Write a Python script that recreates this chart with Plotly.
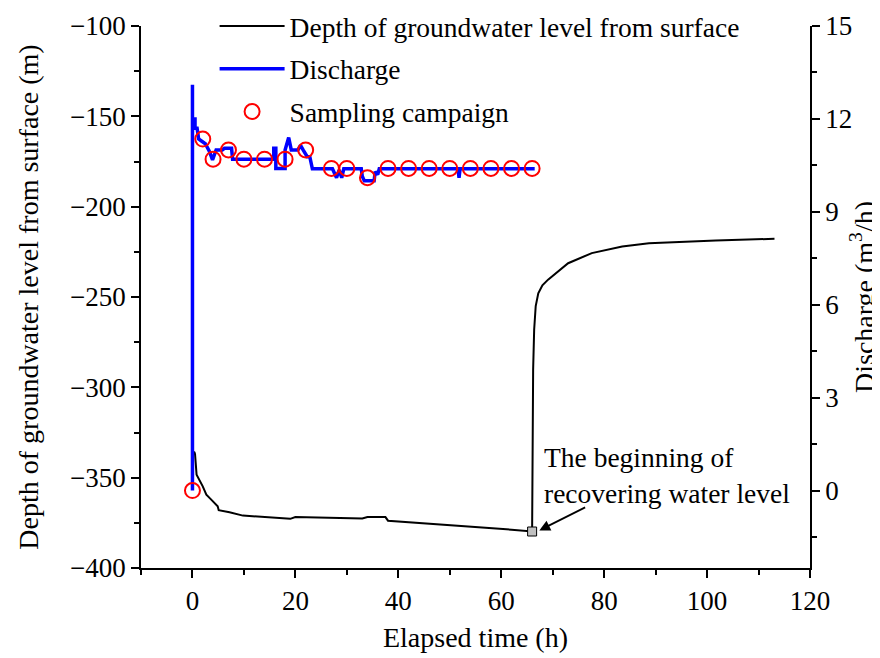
import plotly.graph_objects as go

# Depth of groundwater level (m) vs elapsed time (h)
depth_t = [0.0, 0.4, 0.5, 0.8, 2.0, 2.7, 3.6, 4.3, 4.9, 5.1, 7.2, 9.8, 15.0, 19.0, 20.0, 25.0,
           30.0, 33.0, 34.0, 37.5, 38.0, 45.0, 55.0, 62.0, 66.0,
           66.1, 66.2, 66.4, 66.7, 67.2, 68.0, 69.1, 73.0, 77.6, 83.5, 88.7, 95.2, 101.7, 113.1]
depth_v = [-335.4, -336.0, -337.0, -348.3, -354.8, -359.4, -362.0, -364.0, -365.8, -368.0, -369.1, -371.0, -372.2, -372.8, -371.8, -372.0,
           -372.3, -372.6, -371.8, -371.8, -373.8, -375.2, -377.3, -378.8, -379.8,
           -330.0, -290.0, -268.0, -255.0, -248.0, -243.5, -240.4, -231.3, -225.7, -222.0, -220.2, -219.3, -218.7, -217.8]

# Discharge (m3/h)
dis_t = [0.0, 0.0, 0.0, 0.5, 0.5, 0.9, 1.2, 2.5, 3.3, 3.9, 4.6, 5.8, 6.2, 7.6, 7.8, 15.8, 15.8, 16.2, 16.2,
         18.0, 18.0, 18.7, 19.2, 20.5, 21.0, 21.5, 22.3, 22.8, 23.3, 27.2, 28.0, 28.5, 29.0, 29.4,
         32.8, 33.0, 33.4, 35.3, 35.5, 36.0, 36.3, 51.6, 51.8, 52.0, 66.5]
dis_v = [0.0, 13.1, 12.0, 12.0, 11.7, 11.7, 11.35, 11.2, 10.95, 10.68, 11.0, 11.0, 11.05, 11.05, 10.7, 10.7, 11.05, 11.05, 10.4,
         10.4, 11.0, 11.4, 11.0, 11.0, 11.15, 11.0, 10.78, 10.78, 10.39, 10.39, 10.1, 10.35, 10.1, 10.39,
         10.39, 10.15, 10.0, 10.0, 10.3, 10.2, 10.39, 10.39, 10.1, 10.39, 10.39]

# Sampling campaign
samp_t = [0, 2, 4, 7, 10, 14, 18, 22, 27, 30, 34, 38, 42, 46, 50, 54, 58, 62, 66]
samp_v = [0.0, 11.35, 10.7, 11.0, 10.7, 10.7, 10.7, 11.0, 10.4, 10.4, 10.1, 10.4, 10.4, 10.4, 10.4, 10.4, 10.4, 10.4, 10.4]

# Beginning of recovery point
rec_t = [66.0]
rec_v = [-379.8]

FONT = "Liberation Serif"

fig = go.Figure()
fig.add_trace(go.Scatter(x=depth_t, y=depth_v, mode="lines", name="Depth of groundwater level from surface",
                         line=dict(color="black", width=2), legendgroup="a"))
fig.add_trace(go.Scatter(x=dis_t, y=dis_v, mode="lines", name="Discharge", yaxis="y2",
                         line=dict(color="#0000ff", width=3.5), legendgroup="b"))
fig.add_trace(go.Scatter(x=samp_t, y=samp_v, mode="markers", name="Sampling campaign", yaxis="y2",
                         marker=dict(symbol="circle-open", size=15, color="#ff0000", line=dict(width=2, color="#ff0000")),
                         legendgroup="c"))
fig.add_trace(go.Scatter(x=rec_t, y=rec_v, mode="markers", showlegend=False,
                         marker=dict(symbol="square", size=9, color="#c0c0c0", line=dict(width=1, color="black"))))

fig.add_annotation(x=67.4, y=-379.2, ax=76.6, ay=-366, xref="x", yref="y", axref="x", ayref="y",
                   text="", showarrow=True, arrowhead=2, arrowsize=1.2, arrowwidth=1.8, arrowcolor="black")
fig.add_annotation(x=68.0, y=-348.6, xref="x", yref="y", text="The beginning of<br>recovering water level",
                   showarrow=False, xanchor="left", yanchor="middle", align="left",
                   font=dict(family=FONT, size=27.5, color="black"))

def axis_common():
    return dict(showgrid=False, zeroline=False, showline=True, linecolor="black", linewidth=1.5,
                ticks="outside", ticklen=8, tickwidth=1.5, tickcolor="black", automargin=False,
                tickfont=dict(family=FONT, size=27, color="black"))

# page body has an 8px margin: shrink the figure so it fits the 880x658 window
fig.update_layout(
    width=872, height=650,
    margin=dict(l=133, r=70, t=18, b=90, autoexpand=False),
    paper_bgcolor="white", plot_bgcolor="white",
    font=dict(family=FONT, size=27, color="black"),
    xaxis=dict(range=[-10, 120], tick0=0, dtick=20,
               minor=dict(dtick=10, ticks="outside", ticklen=5, tickwidth=1.5, tickcolor="black"),
               title=dict(text="Elapsed time (h)", font=dict(family=FONT, size=28, color="black"), standoff=12),
               **axis_common()),
    yaxis=dict(range=[-400, -100], tick0=-400, dtick=50,
               minor=dict(dtick=25, ticks="outside", ticklen=5, tickwidth=1.5, tickcolor="black"),
               title=dict(text="Depth of groundwater level from surface (m)", font=dict(family=FONT, size=28, color="black"), standoff=23),
               **axis_common()),
    yaxis2=dict(range=[-2.5, 15], tick0=0, dtick=3, overlaying="y", side="right",
                minor=dict(tick0=0, dtick=1.5, ticks="outside", ticklen=5, tickwidth=1.5, tickcolor="black"),
                title=dict(text="Discharge (m<sup>3</sup>/h)", font=dict(family=FONT, size=28, color="black"), standoff=10),
                **axis_common()),
    legend=dict(x=0.11, y=1.045, xref="paper", yref="paper", xanchor="left", yanchor="top",
                bgcolor="rgba(0,0,0,0)",
                font=dict(family=FONT, size=27.5, color="black"), itemwidth=65,
                traceorder="grouped", tracegroupgap=4),
    showlegend=True,
)

fig.write_html("out.html")
